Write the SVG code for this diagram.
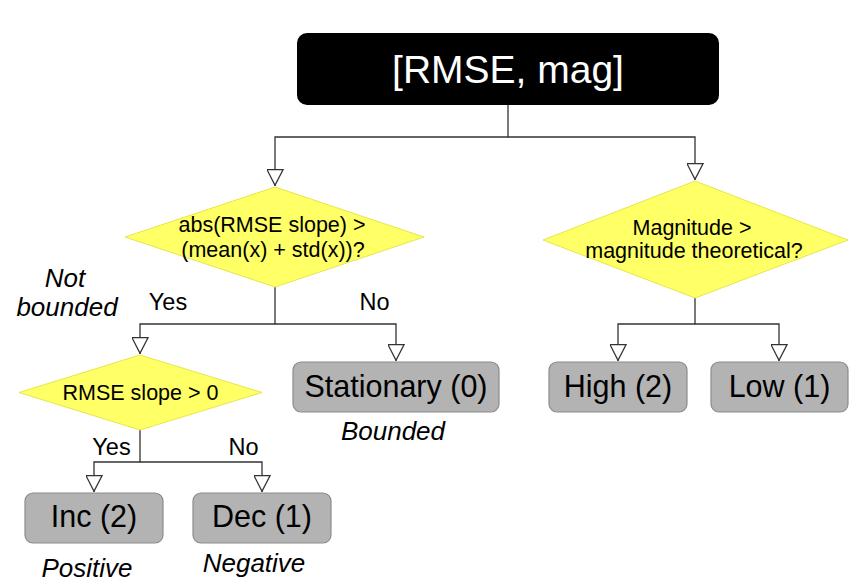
<svg xmlns="http://www.w3.org/2000/svg" width="863" height="586" viewBox="0 0 863 586">
<style>
text{font-family:"Liberation Sans",Arial,sans-serif;text-anchor:middle;fill:#000}
.dia{fill:#ffff66;stroke:#e6e64c;stroke-width:1}
.box{fill:#b3b3b3;stroke:#8c8c8c;stroke-width:1.2}
.dt{font-size:21.5px}
.bt{font-size:30.5px}
.lab{font-size:23.5px}
.it{font-size:26px;font-style:italic}
.con{fill:none;stroke:#333;stroke-width:1.3;marker-end:url(#arr)}
</style>
<defs>
<marker id="arr" viewBox="0 0 17 17" refX="17" refY="8.5" markerWidth="17" markerHeight="17" markerUnits="userSpaceOnUse" orient="auto">
<path d="M0.7,0.5 L16.3,8.5 L0.7,16.5 Z" fill="#fff" stroke="#333" stroke-width="1.3" stroke-linejoin="miter"/>
</marker>
</defs>
<rect width="863" height="586" fill="#fff"/>
<g id="connectors">
<path class="con" d="M508,105 V137 H275 V186"/>
<path class="con" d="M508,137 H695 V180"/>
<path class="con" d="M275,287 V324 H140 V354"/>
<path class="con" d="M275,324 H396 V361"/>
<path class="con" d="M140,430 V462 H94 V492"/>
<path class="con" d="M140,462 H262 V492"/>
<path class="con" d="M695,298 V324 H618 V361"/>
<path class="con" d="M695,324 H779 V361"/>
</g>
<g id="root">
<rect x="297" y="33" width="422" height="72" rx="10" fill="#000"/>
<text x="508" y="83" style="font-size:39px;fill:#fff">[RMSE, mag]</text>
</g>
<g id="q-bounded">
<polygon class="dia" points="275,187 424,237 275,287 125,237"/>
<text class="dt" x="272" y="232">abs(RMSE slope) &gt;</text>
<text class="dt" x="273" y="257">(mean(x) + std(x))?</text>
</g>
<g id="q-magnitude">
<polygon class="dia" points="695,181 848,240 695,298 543,240"/>
<text class="dt" x="692" y="235">Magnitude &gt;</text>
<text class="dt" x="694" y="258">magnitude theoretical?</text>
</g>
<g id="q-slope">
<polygon class="dia" points="140,355 262,392.5 140,430 19,392.5"/>
<text class="dt" x="140.5" y="400">RMSE slope &gt; 0</text>
</g>
<g id="stationary">
<rect class="box" x="293" y="362" width="206" height="50" rx="8"/>
<text class="bt" x="396" y="397">Stationary (0)</text>
</g>
<g id="high">
<rect class="box" x="549" y="362" width="138" height="50" rx="8"/>
<text class="bt" x="618" y="397">High (2)</text>
</g>
<g id="low">
<rect class="box" x="711" y="362" width="137" height="50" rx="8"/>
<text class="bt" x="779.5" y="397">Low (1)</text>
</g>
<g id="inc">
<rect class="box" x="25" y="493" width="138" height="50" rx="8"/>
<text class="bt" x="94" y="527">Inc (2)</text>
</g>
<g id="dec">
<rect class="box" x="193" y="493" width="138" height="50" rx="8"/>
<text class="bt" x="262" y="527">Dec (1)</text>
</g>
<g id="labels">
<text class="lab" x="168" y="310">Yes</text>
<text class="lab" x="374.5" y="310">No</text>
<text class="lab" x="111.5" y="455">Yes</text>
<text class="lab" x="243.5" y="455">No</text>
<text class="it" x="65" y="287">Not</text>
<text class="it" x="67" y="316">bounded</text>
<text class="it" x="393" y="440">Bounded</text>
<text class="it" x="87" y="577">Positive</text>
<text class="it" x="254" y="572">Negative</text>
</g>
</svg>
